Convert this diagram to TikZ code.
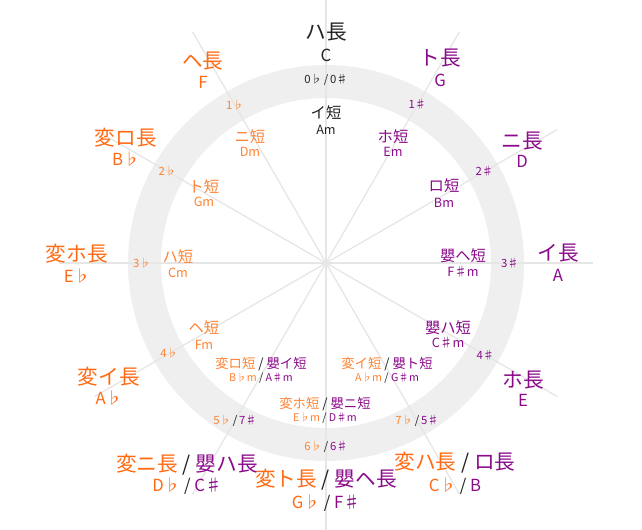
\documentclass[tikz,border=0pt]{standalone}
\usepackage{fontspec}
\setmainfont{Noto Sans CJK JP}
\usepackage{xcolor}
\definecolor{FlatOrange}{HTML}{FF6A13}
\definecolor{FlatOrangeLight}{HTML}{FF8232}
\definecolor{SharpPurple}{HTML}{8A0A8A}
\definecolor{RingGrey}{HTML}{EFEFEF}
\definecolor{SpokeGrey}{HTML}{E6E6E6}
\definecolor{NeutralDark}{HTML}{222222}
\usetikzlibrary{positioning}

\begin{document}
\begin{tikzpicture}[x=0.75pt, y=0.75pt,
    major/.style={font=\fontsize{15.5}{18}\selectfont, inner sep=0pt},
    majorname/.style={font=\fontsize{12.5}{15}\selectfont, inner sep=0pt},
    minor/.style={font=\fontsize{11.5}{14}\selectfont, inner sep=0pt},
    minorname/.style={font=\fontsize{9.5}{12}\selectfont, inner sep=0pt},
    pair/.style={font=\fontsize{10}{12}\selectfont, inner sep=0pt},
    pairname/.style={font=\fontsize{8}{10}\selectfont, inner sep=0pt},
    count/.style={font=\fontsize{8.5}{10}\selectfont, inner sep=0pt},
    spoke/.style={draw=SpokeGrey, line width=1pt}]
    \useasboundingbox (-326,-267) rectangle (316,263);

    % Ring and spokes
    \draw[RingGrey, line width=24.75pt] (0,0) circle (181.5);
    \draw[spoke] (90:267) -- (-90:267);
    \draw[spoke] (60:267) -- (-120:267);
    \draw[spoke] (30:267) -- (-150:267);
    \draw[spoke] (0:267) -- (180:267);
    \draw[spoke] (-30:267) -- (150:267);
    \draw[spoke] (-60:267) -- (120:267);

    % Major keys
    \node[major, text=NeutralDark] (majC) at (0,231) {ハ長};
    \node[majorname, text=NeutralDark] (majCname) at (0,208) {C};
    \node[major, text=SharpPurple] (majG) at (114,205) {ト長};
    \node[majorname, text=SharpPurple] (majGname) at (114,183) {G};
    \node[major, text=SharpPurple] (majD) at (196,122) {ニ長};
    \node[majorname, text=SharpPurple] (majDname) at (196,102) {D};
    \node[major, text=SharpPurple] (majA) at (232,10) {イ長};
    \node[majorname, text=SharpPurple] (majAname) at (232,-12) {A};
    \node[major, text=SharpPurple] (majE) at (197,-117) {ホ長};
    \node[majorname, text=SharpPurple] (majEname) at (197,-137) {E};
    \node[major, text=NeutralDark] (majB) at (129,-200) {{\color{FlatOrange}変ハ長} / {\color{SharpPurple}ロ長}};
    \node[majorname, text=NeutralDark] (majBname) at (129,-223) {{\color{FlatOrange}C♭} / {\color{SharpPurple}B}};
    \node[major, text=NeutralDark] (majFs) at (0,-217) {{\color{FlatOrange}変ト長} / {\color{SharpPurple}嬰ヘ長}};
    \node[majorname, text=NeutralDark] (majFsname) at (0,-240) {{\color{FlatOrange}G♭} / {\color{SharpPurple}F♯}};
    \node[major, text=NeutralDark] (majCs) at (-139,-202) {{\color{FlatOrange}変ニ長} / {\color{SharpPurple}嬰ハ長}};
    \node[majorname, text=NeutralDark] (majCsname) at (-139,-223) {{\color{FlatOrange}D♭} / {\color{SharpPurple}C♯}};
    \node[major, text=FlatOrange] (majAb) at (-217,-114) {変イ長};
    \node[majorname, text=FlatOrange] (majAbname) at (-217,-135) {A♭};
    \node[major, text=FlatOrange] (majEb) at (-249,9) {変ホ長};
    \node[majorname, text=FlatOrange] (majEbname) at (-249,-13) {E♭};
    \node[major, text=FlatOrange] (majBb) at (-200,125) {変ロ長};
    \node[majorname, text=FlatOrange] (majBbname) at (-200,104) {B♭};
    \node[major, text=FlatOrange] (majF) at (-123,202) {ヘ長};
    \node[majorname, text=FlatOrange] (majFname) at (-123,181) {F};

    % Minor keys
    \node[minor, text=NeutralDark] (minA) at (0,150) {イ短};
    \node[minorname, text=NeutralDark] (minAname) at (0,133) {Am};
    \node[minor, text=SharpPurple] (minE) at (67,126) {ホ短};
    \node[minorname, text=SharpPurple] (minEname) at (67,111) {Em};
    \node[minor, text=SharpPurple] (minB) at (118,77) {ロ短};
    \node[minorname, text=SharpPurple] (minBname) at (118,60) {Bm};
    \node[minor, text=SharpPurple] (minFs) at (137,7) {嬰ヘ短};
    \node[minorname, text=SharpPurple] (minFsname) at (137,-9) {F♯m};
    \node[minor, text=SharpPurple] (minCs) at (122,-65) {嬰ハ短};
    \node[minorname, text=SharpPurple] (minCsname) at (122,-80) {C♯m};
    \node[pair, text=NeutralDark] (minGs) at (61,-101) {{\color{FlatOrangeLight}変イ短} / {\color{SharpPurple}嬰ト短}};
    \node[pairname, text=NeutralDark] (minGsname) at (61,-115) {{\color{FlatOrangeLight}A♭m} / {\color{SharpPurple}G♯m}};
    \node[pair, text=NeutralDark] (minDs) at (-1,-141) {{\color{FlatOrangeLight}変ホ短} / {\color{SharpPurple}嬰ニ短}};
    \node[pairname, text=NeutralDark] (minDsname) at (-1,-155) {{\color{FlatOrangeLight}E♭m} / {\color{SharpPurple}D♯m}};
    \node[pair, text=NeutralDark] (minAs) at (-65,-101) {{\color{FlatOrangeLight}変ロ短} / {\color{SharpPurple}嬰イ短}};
    \node[pairname, text=NeutralDark] (minAsname) at (-65,-115) {{\color{FlatOrangeLight}B♭m} / {\color{SharpPurple}A♯m}};
    \node[minor, text=FlatOrangeLight] (minF) at (-122,-65) {ヘ短};
    \node[minorname, text=FlatOrangeLight] (minFname) at (-122,-82) {Fm};
    \node[minor, text=FlatOrangeLight] (minC) at (-148,6) {ハ短};
    \node[minorname, text=FlatOrangeLight] (minCname) at (-148,-10) {Cm};
    \node[minor, text=FlatOrangeLight] (minG) at (-122,76) {ト短};
    \node[minorname, text=FlatOrangeLight] (minGname) at (-122,61) {Gm};
    \node[minor, text=FlatOrangeLight] (minD) at (-76,126) {ニ短};
    \node[minorname, text=FlatOrangeLight] (minDname) at (-76,111) {Dm};

    % Key signatures on the ring
    \node[count, text=NeutralDark] (sig0) at (90:183) {0♭\,/\,0♯};
    \node[count, text=SharpPurple] (sig1s) at (60:183) {1♯};
    \node[count, text=SharpPurple] (sig2s) at (30:183) {2♯};
    \node[count, text=SharpPurple] (sig3s) at (0:184) {3♯};
    \node[count, text=SharpPurple] (sig4s) at (-30:184) {4♯};
    \node[count, text=NeutralDark] (sig5s) at (-60:182) {{\color{FlatOrangeLight}7♭}\,/\,{\color{SharpPurple}5♯}};
    \node[count, text=NeutralDark] (sig6) at (-90:184) {{\color{FlatOrangeLight}6♭}\,/\,{\color{SharpPurple}6♯}};
    \node[count, text=NeutralDark] (sig7s) at (-120:182) {{\color{FlatOrangeLight}5♭}\,/\,{\color{SharpPurple}7♯}};
    \node[count, text=FlatOrangeLight] (sig4b) at (-150:181) {4♭};
    \node[count, text=FlatOrangeLight] (sig3b) at (180:184) {3♭};
    \node[count, text=FlatOrangeLight] (sig2b) at (150:183) {2♭};
    \node[count, text=FlatOrangeLight] (sig1b) at (120:182) {1♭};
\end{tikzpicture}
\end{document}
